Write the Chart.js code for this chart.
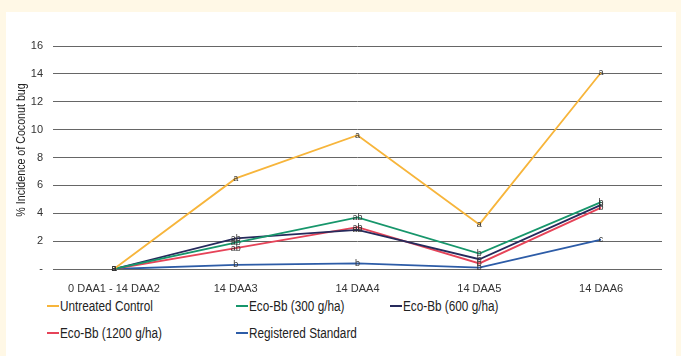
<!DOCTYPE html>
<html lang="en">
<head>
    <meta charset="UTF-8">
    <title>Coconut bug incidence</title>
    <script src="https://cdn.jsdelivr.net/npm/chart.js"></script>
    <style>
        body { margin: 0; width: 681px; height: 356px; background: #fff8e6; overflow: hidden; position: relative; font-family: "Liberation Sans", Arial, sans-serif; }
        .panel { position: absolute; left: 6px; top: 12px; width: 670px; height: 344px; background: #fff; }
        .grafico { position: absolute; left: 0; top: 0; width: 681px; height: 295px; }
        .ytitulo { position: absolute; left: 20px; top: 150px; transform: translate(-50%, -50%) rotate(-90deg) scaleX(0.82); white-space: nowrap;
                   font-family: "Liberation Sans", Arial, sans-serif; font-size: 13px; color: #222; }
        .leyenda { position: absolute; font-family: "Liberation Sans", Arial, sans-serif; font-size: 14px; color: #222; white-space: nowrap; }
        .leyenda .marca { display: inline-block; width: 12px; height: 2px; vertical-align: middle; margin-right: 1px; position: relative; top: -1px; }
        .leyenda .texto { display: inline-block; transform: scaleX(0.84); transform-origin: left center; }
    </style>
</head>
<body>
    <div class="panel"></div>
    <div class="grafico"><canvas id="grafico"></canvas></div>
    <div class="ytitulo">% Incidence of Coconut bug</div>
    <div id="leyendas"></div>

    <script>
        const categorias = ['0 DAA1 - 14 DAA2', '14 DAA3', '14 DAA4', '14 DAA5', '14 DAA6'];
        const untreated = [0, 6.5, 9.6, 3.2, 14.1];
        const eco300 = [0, 1.9, 3.7, 1.1, 4.8];
        const eco600 = [0, 2.2, 2.8, 0.7, 4.6];
        const eco1200 = [0, 1.5, 3.0, 0.4, 4.4];
        const registered = [0, 0.3, 0.4, 0.1, 2.1];

        const letrasUntreated = ['a', 'a', 'a', 'a', 'a'];
        const letras300 = ['a', 'ab', 'ab', 'b', 'b'];
        const letras600 = ['a', 'ab', 'ab', 'b', 'b'];
        const letras1200 = ['a', 'ab', 'ab', 'b', 'b'];
        const letrasRegistered = ['a', 'b', 'b', 'b', 'c'];

        const yTicks = [0, 2, 4, 6, 8, 10, 12, 14, 16];

        const series = [
            { label: 'Untreated Control', data: untreated, color: '#f7b53b', letras: letrasUntreated },
            { label: 'Eco-Bb (300 g/ha)', data: eco300, color: '#17966b', letras: letras300 },
            { label: 'Eco-Bb (600 g/ha)', data: eco600, color: '#262a5c', letras: letras600 },
            { label: 'Eco-Bb (1200 g/ha)', data: eco1200, color: '#e64358', letras: letras1200 },
            { label: 'Registered Standard', data: registered, color: '#2d5ca7', letras: letrasRegistered }
        ];

        // legend slots (left, top) - two rows like the original
        const posLeyenda = [[47, 298], [236, 298], [390, 298], [47, 325], [236, 325]];
        let cont = document.getElementById('leyendas');
        series.forEach((s, i) => {
            let d = document.createElement('div');
            d.className = 'leyenda';
            d.style.left = posLeyenda[i][0] + 'px';
            d.style.top = posLeyenda[i][1] + 'px';
            d.innerHTML = '<span class="marca" style="background:' + s.color + '"></span><span class="texto">' + s.label + '</span>';
            cont.appendChild(d);
        });

        const letrasPlugin = {
            id: 'letras',
            afterDatasetsDraw(chart) {
                let ctx = chart.ctx;
                ctx.save();
                ctx.font = '9px "Liberation Sans", Arial, sans-serif';
                ctx.fillStyle = '#333';
                ctx.textAlign = 'center';
                ctx.textBaseline = 'middle';
                chart.data.datasets.forEach((ds, i) => {
                    chart.getDatasetMeta(i).data.forEach((pt, j) => {
                        ctx.fillText(series[i].letras[j], pt.x, pt.y);
                    });
                });
                ctx.restore();
            }
        };

        let ctx = document.getElementById('grafico').getContext('2d');
        let chart = new Chart(ctx, {
            type: 'line',
            data: {
                labels: categorias,
                datasets: series.map(s => ({
                    label: s.label,
                    data: s.data,
                    borderColor: s.color,
                    backgroundColor: s.color,
                    borderWidth: 1.8,
                    pointRadius: 0,
                    tension: 0
                }))
            },
            options: {
                responsive: true,
                maintainAspectRatio: false,
                animation: false,
                layout: { padding: { top: 46, right: 19, left: 0, bottom: 0 } },
                scales: {
                    y: {
                        min: 0,
                        max: 16,
                        afterFit: scale => { scale.width = 53; },
                        afterBuildTicks: scale => { scale.ticks = yTicks.map(v => ({ value: v })); },
                        border: { display: false },
                        grid: { color: '#666', drawTicks: false, lineWidth: 1 },
                        ticks: {
                            padding: 10,
                            color: '#333',
                            font: { family: '"Liberation Sans", Arial, sans-serif', size: 11 },
                            callback: v => v === 0 ? '-' : v
                        }
                    },
                    x: {
                        offset: true,
                        afterFit: scale => { scale.height = 26; },
                        border: { display: false },
                        grid: { display: false, offset: true },
                        ticks: {
                            padding: 5,
                            maxRotation: 0,
                            autoSkip: false,
                            color: '#333',
                            font: { family: '"Liberation Sans", Arial, sans-serif', size: 11 }
                        }
                    }
                },
                plugins: {
                    legend: { display: false },
                    tooltip: { enabled: false }
                }
            },
            plugins: [letrasPlugin]
        });
    </script>
</body>
</html>
